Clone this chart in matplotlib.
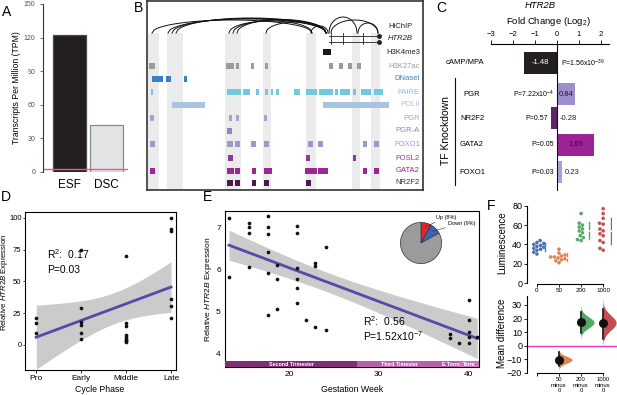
import numpy as np
import matplotlib
matplotlib.use('Agg')
import matplotlib.pyplot as plt
from matplotlib.patches import Rectangle
import seaborn as sns

#--------------- Style ---------------------
plt.rcParams['font.family'] = 'Liberation Sans'
plt.rcParams['mathtext.fontset'] = 'custom'
plt.rcParams['mathtext.rm'] = 'Liberation Sans'
plt.rcParams['mathtext.it'] = 'Liberation Sans:italic'
plt.rcParams['axes.linewidth'] = 0.8
plt.rcParams['xtick.major.width'] = 0.6
plt.rcParams['ytick.major.width'] = 0.6
plt.rcParams['xtick.major.size'] = 2
plt.rcParams['ytick.major.size'] = 2

W, H = 617, 395

#--------------- Data ----------------------
# A
cell_types = ['ESF', 'DSC']
tpm = [122, 42]
tpm_cutoff = 3

# B  (genomic positions along the locus, one unit per pixel column)
open_regions = [(148, 159), (167, 183), (225, 241), (263, 271), (306, 316), (352, 360), (371, 380)]
hichip_loops = [(152, 312, 13), (168, 326, 14), (172, 326, 14.5), (176, 326, 15), (229, 312, 12),
                (233, 326, 13), (237, 326, 13.5), (266, 326, 11), (311, 328, 7), (329, 357, 16),
                (358, 378, 10), (331, 378, 13)]
h3k4me3 = [(323, 331)]
h3k27ac = [(149, 155), (226, 234), (236, 239), (251, 254), (265, 268), (329, 333), (339, 343), (348, 352), (357, 361)]
dnase = [(152, 163), (166, 171), (184, 187)]
faire = [(151, 153), (227, 241), (243, 250), (256, 259), (265, 268), (271, 273), (276, 279), (294, 300),
         (306, 317), (319, 333), (335, 338), (340, 350), (353, 356), (361, 371), (374, 383)]
polii = [(172, 205), (323, 389)]
pgr = [(150, 154), (229, 232), (236, 239), (264, 267)]
pgr_a = [(227, 232)]
foxo1 = [(150, 155), (227, 233), (235, 240), (251, 256), (264, 269), (308, 313), (318, 323), (363, 367), (374, 379)]
fosl2 = [(228, 233), (306, 310), (353, 356)]
gata2 = [(150, 155), (227, 234), (235, 240), (252, 256), (264, 272), (305, 317), (318, 328), (363, 367), (374, 379)]
nr2f2 = [(227, 233), (235, 240), (252, 256), (264, 269), (306, 311)]
gene_start, gene_end = 329, 379

# C
conditions = ['cAMP/MPA', 'PGR', 'NR2F2', 'GATA2', 'FOXO1']
log2fc = [-1.48, 0.84, -0.28, 1.69, 0.23]
pvals = [r'P=1.56x10$^{-39}$', r'P=7.22x10$^{-4}$', 'P=0.57', 'P=0.05', 'P=0.03']

# D
phases = ['Pro', 'Early', 'Middle', 'Late']
d_pro = [21, 17.5, 9.5]
d_early = [75, 29.5, 18, 16, 9.5, 4.5]
d_middle = [70, 17, 15, 8, 6, 5, 4, 3, 2]
d_late = [100, 91, 90, 36, 31, 21.5]

# E
weeks = [13.3, 13.3, 15.5, 15.5, 15.5, 15.5, 17.6, 17.6, 17.6, 17.6, 17.6, 17.6,
         18.7, 18.7, 18.7, 20.9, 20.9, 20.9, 20.9, 20.9, 20.9, 21.9, 22.9, 22.9, 22.9,
         24.1, 24.1, 38.0, 38.0, 39.0, 40.1, 40.1, 40.1, 40.1, 40.1, 41.0]
expr = [7.21, 5.81, 7.09, 7.01, 6.87, 6.05, 7.26, 7.01, 6.83, 6.42, 5.92, 4.91,
        6.10, 5.78, 5.07, 7.02, 6.87, 6.02, 5.78, 5.57, 5.21, 4.80, 6.16, 6.09, 4.64,
        6.52, 4.57, 4.48, 4.37, 4.25, 5.27, 4.79, 4.52, 4.41, 4.25, 4.41]
trimesters = [(12.85, 27.6, 'Second Trimester'), (27.6, 37.1, 'Third Timester'),
              (37.1, 39.0, 'E Term'), (39.0, 41.2, 'Term')]
de_labels = ['Up (8%)', 'Down (9%)', '']
de_share = [8, 9, 83]

# F
doses = ['0', '50', '200', '1000']
lum_0 = [30, 32, 34, 35, 36, 37, 38, 39, 40, 41, 42, 44]
lum_50 = [21, 23, 24, 25, 26, 27, 27, 28, 29, 31, 35]
lum_200 = [44, 45, 47, 49, 52, 54, 56, 58, 60, 62, 72]
lum_1000 = [34, 36, 42, 44, 49, 51, 54, 56, 61, 62, 67, 72, 77]
md_ci_lo = [-15, 9, 5]
md_ci_hi = [-5, 25, 27]

#--------------- Figure helpers ------------
fig = plt.figure(figsize=(W / 100, H / 100), dpi=100)


def px_axes(l, t, r, b):
    return fig.add_axes([l / W, 1 - b / H, (r - l) / W, (b - t) / H])


def ftext(x, y, s, **kw):
    fig.text(x / W, 1 - y / H, s, **kw)


def fit_band(x, y, xx, tcrit):
    x = np.asarray(x, float)
    y = np.asarray(y, float)
    b, a = np.polyfit(x, y, 1)
    res = y - (a + b * x)
    s = np.sqrt(np.sum(res ** 2) / (len(x) - 2))
    sxx = np.sum((x - x.mean()) ** 2)
    se = s * np.sqrt(1 / len(x) + (xx - x.mean()) ** 2 / sxx)
    yy = a + b * xx
    return yy, yy - tcrit * se, yy + tcrit * se


for lab, x, y in [('A', 2, 12), ('B', 134, 8), ('C', 436, 8), ('D', 1, 197), ('E', 203, 197), ('F', 487, 206)]:
    ftext(x, y, lab, fontsize=10, va='center')

#--------------- A ---------------------
axA = px_axes(43, 4, 128, 172)
axA.bar(range(2), tpm, width=0.89, color=['#231f20', '#e3e4e6'],
        edgecolor=['#4a4a4a', '#8a8a8a'], linewidth=0.9)
axA.axhline(tpm_cutoff, color='#e4579b', lw=1.0)
axA.set_xlim(-0.72, 1.58)
axA.set_ylim(0, 150)
for sp in ['top', 'right', 'bottom']:
    axA.spines[sp].set_visible(False)
axA.set_yticks(range(0, 151, 30))
axA.tick_params(axis='y', labelsize=5, colors='#555', length=2)
axA.spines['left'].set_color('#333')
axA.set_xticks([0, 1])
axA.set_xticklabels(cell_types, fontsize=8.5)
axA.tick_params(axis='x', length=0, pad=5)
ftext(17, 88, 'Transcripts Per Million (TPM)', rotation=90, fontsize=6.2, ha='center', va='center')

#--------------- B ---------------------
axB = px_axes(147, 1, 423, 190)
axB.set_xlim(147, 423)
axB.set_ylim(190, 1)
axB.set_xticks([])
axB.set_yticks([])
for sp in axB.spines.values():
    sp.set_linewidth(1.2)
    sp.set_color('#333')
for s, e in open_regions:
    axB.add_patch(Rectangle((s, 33), e - s, 157, color='#ebebeb', lw=0))
t = np.linspace(-1, 1, 80)
for a, b, h in hichip_loops:
    axB.plot((a + b) / 2 + (b - a) / 2 * t, 33 - h * np.sqrt(1 - t ** 2), color='#111', lw=0.7)

# gene model
axB.plot([gene_start, gene_end], [35.5, 35.5], color='#222', lw=0.6)
axB.plot([gene_start, gene_end], [41.5, 41.5], color='#222', lw=0.6)
for gx in [gene_start + 2, 343, 363]:
    axB.plot([gx, gx], [33, 44], color='#222', lw=0.6)
axB.plot([gene_end, gene_end], [35.5, 41.5], 'o', color='#222', ms=2.5)

tracks = [
    ('H3K4me3', 52, h3k4me3, '#1a1a1a', '#222222'),
    ('H3K27ac', 66, h3k27ac, '#9b9b9b', '#9a9a9a'),
    ('DNaseI', 79, dnase, '#3d7fc6', '#3d7fc6'),
    ('FAIRE', 92, faire, '#72c9dd', '#72c9dd'),
    ('POLII', 105, polii, '#a8c4e2', '#a8c4e2'),
    ('PGR', 118, pgr, '#a3a3d1', '#a3a3d1'),
    ('PGR-A', 131, pgr_a, '#9b7fc1', '#9b7fc1'),
    ('FOXO1', 144, foxo1, '#9d97cb', '#9d97cb'),
    ('FOSL2', 158, fosl2, '#8c3c98', '#8c3c98'),
    ('GATA2', 171, gata2, '#9a2793', '#9a2793'),
    ('NR2F2', 183, nr2f2, '#4b1850', '#4b1850'),
]
for name, y, segs, col, lcol in tracks:
    hh = 6.5 if name == 'H3K4me3' else 5.5
    for s, e in segs:
        axB.add_patch(Rectangle((s, y - hh / 2), e - s, hh, color=col, lw=0))
    axB.text(420, y, name, ha='right', va='center', fontsize=5.5, color=lcol)
axB.text(413, 27, 'HiChIP', ha='right', va='center', fontsize=5.5, color='#222')
axB.text(413, 39, 'HTR2B', ha='right', va='center', fontsize=5.5, color='#222', style='italic')

#--------------- C ---------------------
axC = px_axes(440, 44, 617, 195)
axC.set_xlim((440 - 557) / 22, (617 - 557) / 22)
axC.set_ylim(195, 44)
rows_y = [63, 94, 118, 145, 172]
c_colors = ['#231f20', '#9d8fcd', '#5a2868', '#9c2593', '#a9a2d8']
axC.barh(rows_y, log2fc, height=22, color=c_colors)
axC.plot([0, 0], [44, 190], color='#111', lw=0.8)
for sp in ['bottom', 'left', 'right']:
    axC.spines[sp].set_visible(False)
axC.spines['top'].set_bounds(-3, 2.35)
axC.xaxis.tick_top()
axC.set_xticks(range(-3, 3))
axC.tick_params(axis='x', labelsize=5.5, length=3, pad=1)
axC.set_yticks([])
axC.text(-3.3, rows_y[0], conditions[0], ha='right', va='center', fontsize=5.5)
for name, y in zip(conditions[1:], rows_y[1:]):
    axC.text((472 - 557) / 22, y, name, ha='center', va='center', fontsize=5.5)
axC.plot([(455 - 557) / 22] * 2, [78, 185], color='#111', lw=0.8)
axC.text((446 - 557) / 22, 131, 'TF Knockdown', rotation=90, ha='center', va='center', fontsize=7.5)
# value labels
val_col = ['white', '#2a1040', '#222', '#3a0c3a', '#222']
for i, (v, p, y) in enumerate(zip(log2fc, pvals, rows_y)):
    txt = f'{v:.2f}'
    if abs(v) > 0.5:
        axC.text(v / 2, y, txt, ha='center', va='center', fontsize=5.5, color=val_col[i])
    else:
        axC.text(max(v, 0) + 0.1, y, txt, ha='left', va='center', fontsize=5.5, color=val_col[i])
    if v < -0.5:
        axC.text(0.2, y, p, ha='left', va='center', fontsize=5)
    else:
        axC.text(min(v, 0) - 0.12, y, p, ha='right', va='center', fontsize=5)
ftext(540, 6, 'HTR2B', fontsize=6.8, style='italic', ha='center', va='center')
ftext(548, 21, 'Fold Change (Log$_2$)', fontsize=6.8, ha='center', va='center')

#--------------- D ---------------------
axD = px_axes(25, 212, 176, 370)
d_groups = [d_pro, d_early, d_middle, d_late]
dx = np.concatenate([[i] * len(g) for i, g in enumerate(d_groups)])
dy = np.concatenate(d_groups)
xx = np.linspace(0, 3, 100)
fit, lo, hi = fit_band(dx, dy, xx, 2.074)
axD.fill_between(xx, lo, hi, color='#cbcbcb', lw=0)
axD.plot(xx, fit, color='#5a48a8', lw=2)
axD.scatter(dx, dy, s=7, color='#111', zorder=3, lw=0)
axD.set_xlim(-0.25, 3.11)
axD.set_ylim(-19.7, 104.7)
axD.set_xticks(range(4))
axD.set_xticklabels(phases)
axD.set_yticks([0, 25, 50, 75, 100])
axD.tick_params(axis='x', labelsize=6, length=2, pad=1.5)
axD.tick_params(axis='y', labelsize=5.5, length=1.5, pad=1)
axD.text(0.25, 68, 'R$^2$:  0.17', fontsize=7.5)
axD.text(0.25, 57, 'P=0.03', fontsize=7.5)
ftext(5, 282, r'Relative $\it{HTR2B}$ Expression', rotation=90, fontsize=5.6, ha='center', va='center')
ftext(100, 390, 'Cycle Phase', fontsize=6.3, ha='center', va='center')

#--------------- E ---------------------
axE = px_axes(225, 211, 479, 367)
xxE = np.linspace(min(weeks), max(weeks), 100)
fitE, loE, hiE = fit_band(weeks, expr, xxE, 2.03)
axE.fill_between(xxE, loE, hiE, color='#cbcbcb', lw=0)
axE.plot(xxE, fitE, color='#5a48a8', lw=2)
axE.scatter(weeks, expr, s=7, color='#111', zorder=3, lw=0)
axE.set_xlim(12.85, 41.2)
axE.set_ylim(3.69, 7.38)
tri_col = ['#7e2f76', '#b862ae', '#b862ae', '#c877bd']
for (s, e, lab), col in zip(trimesters, tri_col):
    axE.add_patch(Rectangle((s, 3.69), e - s, 0.142, color=col, lw=0, zorder=4))
    axE.text((s + e) / 2, 3.76, lab, ha='center', va='center', fontsize=3.8,
             color='white', fontweight='bold', zorder=5)
axE.set_xticks([20, 30, 40])
axE.set_yticks([4, 5, 6, 7])
axE.tick_params(labelsize=6, length=0, pad=3)
axE.text(28.2, 4.65, 'R$^2$:  0.56', fontsize=7.5)
axE.text(28.2, 4.3, 'P=1.52x10$^{-7}$', fontsize=7.5)
ftext(208, 289, r'Relative $\it{HTR2B}$ Expression', rotation=90, fontsize=6, ha='center', va='center')
ftext(352, 390, 'Gestation Week', fontsize=6.3, ha='center', va='center')

axP = px_axes(400, 222, 442, 264)
wedges, _ = axP.pie(de_share, colors=['#e5262d', '#3a62b5', '#9b9b9b'], startangle=90,
                    counterclock=False, wedgeprops=dict(edgecolor='#333', linewidth=0.5))
axP.set_xlim(-1.02, 1.02)
axP.set_ylim(-1.02, 1.02)
ang_up = np.deg2rad(90 - 360 * de_share[0] / 100 / 2)
ang_dn = np.deg2rad(90 - 360 * (de_share[0] + de_share[1] / 2) / 100)
axP.annotate(de_labels[0], xy=(0.8 * np.cos(ang_up), 0.8 * np.sin(ang_up)), xytext=(436, H - 217),
             textcoords='figure pixels', fontsize=4, va='center',
             arrowprops=dict(arrowstyle='-', lw=0.4, color='#333', shrinkA=0, shrinkB=0))
axP.annotate(de_labels[1], xy=(0.8 * np.cos(ang_dn), 0.8 * np.sin(ang_dn)), xytext=(448, H - 223),
             textcoords='figure pixels', fontsize=4, va='center',
             arrowprops=dict(arrowstyle='-', lw=0.4, color='#333', shrinkA=0, shrinkB=0))

#--------------- F ---------------------
pal = ['#4C72B0', '#DD8452', '#55A868', '#C44E52']
lum_groups = [lum_0, lum_50, lum_200, lum_1000]
axF1 = px_axes(527, 200, 612, 284)
grp = np.concatenate([[d] * len(g) for d, g in zip(doses, lum_groups)])
sns.swarmplot(x=grp, y=np.concatenate(lum_groups), order=doses, hue=grp, hue_order=doses,
              palette=pal, size=2.6, ax=axF1, legend=False)
for i, g in enumerate(lum_groups):
    m, sd = np.mean(g), np.std(g, ddof=1)
    axF1.plot([i + 0.36] * 2, [m - sd, m - 1.5], color=pal[i], lw=1)
    axF1.plot([i + 0.36] * 2, [m + 1.5, m + sd], color=pal[i], lw=1)
axF1.set_xlim(-0.45, 3.4)
axF1.set_ylim(-1, 86)
for sp in ['top', 'right']:
    axF1.spines[sp].set_visible(False)
axF1.spines['left'].set_bounds(0, 80)
axF1.spines['bottom'].set_bounds(0, 3)
axF1.set_yticks(range(0, 81, 20))
axF1.set_xticks(range(4))
axF1.set_xticklabels(doses)
axF1.tick_params(axis='y', labelsize=6.5, length=2.5, pad=1)
axF1.tick_params(axis='x', labelsize=4.5, length=2, pad=1)
axF1.set_xlabel('')
axF1.set_ylabel('')
ftext(502, 243, 'Luminescence', rotation=90, fontsize=7, ha='center', va='center')

axF2 = px_axes(527, 296, 617, 373)
axF2.axhline(0, color='#e040c0', lw=1)
base = np.mean(lum_0)
for i, g in enumerate(lum_groups[1:], start=1):
    md = np.mean(g) - base
    lo_ci, hi_ci = md_ci_lo[i - 1], md_ci_hi[i - 1]
    sig = (hi_ci - lo_ci) / 4
    yy = np.linspace(md - 3.2 * sig, md + 3.2 * sig, 80)
    dens = np.exp(-0.5 * ((yy - md) / sig) ** 2)
    axF2.fill_betweenx(yy, i, i + 0.6 * dens, color=pal[i], lw=0)
    axF2.plot([i, i], [lo_ci, hi_ci], color='#111', lw=1.2)
    axF2.plot(i, md, 'o', color='#111', ms=5.5)
axF2.set_xlim(-0.45, 3.64)
axF2.set_ylim(-20.2, 36.6)
for sp in ['top', 'right']:
    axF2.spines[sp].set_visible(False)
axF2.spines['bottom'].set_bounds(0, 3)
axF2.set_yticks(range(-20, 31, 10))
axF2.set_xticks(range(4))
axF2.set_xticklabels([''] + [f'{d}\nminus\n0' for d in doses[1:]], linespacing=1.1)
axF2.tick_params(axis='y', labelsize=6.5, length=2.5, pad=1)
axF2.tick_params(axis='x', labelsize=4.2, length=2, pad=1)
ftext(502, 333, 'Mean difference', rotation=90, fontsize=7, ha='center', va='center')

fig.savefig('out.png', dpi=100)
